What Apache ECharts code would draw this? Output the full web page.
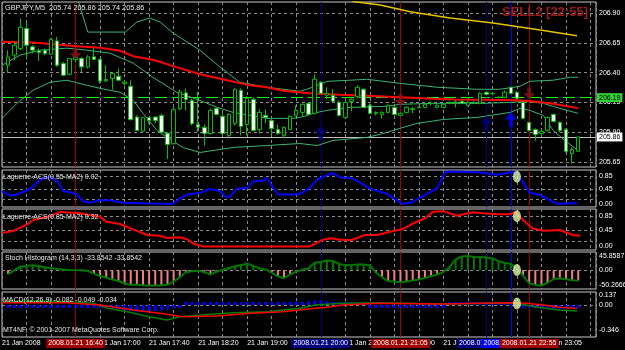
<!DOCTYPE html>
<html><head><meta charset="utf-8">
<script src="https://cdn.jsdelivr.net/npm/echarts@6/dist/echarts.min.js"></script>
<style>html,body{margin:0;padding:0;background:#000;}#c{width:625px;height:350px;}</style>
</head><body><div id="c"></div>
<script>
// ================= DATA =================
// candles (5-minute bars), bar i sits at axis slot i+1
const opens  = [206.462,206.546,206.602,206.771,206.616,206.582,206.588,206.554,206.666,206.476,206.386,206.510,206.518,206.448,206.532,206.510,206.330,206.350,206.369,206.308,206.285,206.027,205.909,206.022,206.027,206.041,205.892,205.803,206.097,206.229,206.167,205.965,205.940,205.889,206.100,206.033,205.873,205.974,206.251,205.965,206.176,205.923,206.041,205.999,205.923,205.873,205.923,206.041,206.066,206.142,206.058,206.319,206.209,206.209,206.150,206.024,206.159,206.201,206.260,206.125,206.058,206.049,206.066,206.108,206.041,206.066,206.091,206.108,206.108,206.142,206.108,206.108,206.150,206.150,206.159,206.125,206.150,206.142,206.235,206.226,206.193,206.193,206.277,206.235,206.150,205.982,205.923,205.889,205.915,206.049,205.982,205.923,205.721,205.740];
const closes = [206.532,206.630,206.779,206.630,206.588,206.569,206.560,206.678,206.462,206.378,206.518,206.527,206.448,206.532,206.510,206.330,206.342,206.392,206.336,206.321,206.005,205.915,206.022,205.999,205.999,205.900,205.797,206.089,206.237,206.173,205.971,205.942,205.889,206.083,206.049,205.889,206.049,206.260,205.948,206.184,205.915,206.066,206.024,205.932,205.889,205.940,206.033,206.083,206.134,206.049,206.344,206.226,206.226,206.159,206.041,206.150,206.176,206.277,206.108,206.058,206.066,206.066,206.125,206.049,206.058,206.108,206.097,206.106,206.134,206.140,206.125,206.134,206.148,206.152,206.142,206.150,206.148,206.226,206.218,206.224,206.191,206.235,206.226,206.184,206.016,205.915,205.881,205.906,206.024,205.990,205.915,205.738,205.755,205.860];
const lows   = [206.395,206.504,206.588,206.510,206.560,206.498,206.546,206.546,206.448,206.369,206.378,206.487,206.405,206.434,206.504,206.308,206.321,206.257,206.330,206.293,205.999,205.909,205.900,205.971,205.974,205.892,205.676,205.797,206.083,206.083,205.957,205.900,205.788,205.881,206.041,205.881,205.856,205.957,205.873,205.873,205.906,205.889,205.974,205.881,205.881,205.848,205.915,206.033,206.033,206.041,206.049,206.218,206.176,206.150,206.033,206.016,206.075,206.184,206.100,206.049,206.041,206.016,206.058,206.041,206.033,206.058,206.058,206.100,206.100,206.125,206.100,206.100,206.134,206.108,206.134,206.117,206.142,206.134,206.209,206.209,206.184,206.184,206.218,206.176,206.007,205.906,205.831,205.864,205.906,205.982,205.898,205.730,205.637,205.740];
const highs  = [206.588,206.658,206.855,206.826,206.630,206.602,206.602,206.687,206.700,206.490,206.518,206.538,206.532,206.546,206.608,206.518,206.462,206.405,206.434,206.336,206.336,206.041,206.027,206.027,206.033,206.055,205.900,206.117,206.257,206.266,206.181,206.237,205.965,206.100,206.108,206.066,206.058,206.268,206.268,206.201,206.193,206.091,206.091,206.016,205.965,205.948,206.041,206.125,206.142,206.150,206.386,206.327,206.277,206.260,206.167,206.176,206.184,206.293,206.268,206.142,206.075,206.075,206.134,206.117,206.066,206.117,206.108,206.117,206.142,206.159,206.134,206.142,206.159,206.167,206.167,206.159,206.159,206.235,206.243,206.235,206.201,206.251,206.280,206.243,206.159,205.990,205.932,205.923,206.033,206.058,205.990,205.932,205.772,205.860];

// overlay lines on the price pane: [slot, price]
const redMA = [[0,206.658],[5.06,206.653],[12.2,206.622],[16.0,206.608],[19.25,206.583],[21.4,206.538],[24.96,206.504],[27.9,206.454],[32.3,206.386],[36.7,206.336],[40.5,206.293],[43.2,206.277],[45.8,206.248],[50.2,206.226],[55.1,206.214],[59.5,206.205],[64.9,206.193],[70.3,206.180],[73.9,206.174],[78.5,206.173],[84.0,206.167],[86.1,206.162],[89.4,206.142],[94.0,206.102]];
const yellowMA = [[56.6,207.030],[57.3,206.997],[61.7,206.967],[66.6,206.911],[73.1,206.858],[80.1,206.816],[87.8,206.757],[93.8,206.709]];
const upperBand = [[11.9,207.077],[12.4,207.009],[14.0,206.740],[16.0,206.740],[20.1,206.740],[22.0,206.824],[24.1,206.858],[25.8,206.824],[27.9,206.732],[32.3,206.588],[35.6,206.445],[38.8,206.319],[43.2,206.277],[48.6,206.243],[50.7,206.277],[53.0,206.327],[56.8,206.336],[59.5,206.344],[64.9,206.310],[71.0,206.277],[77.5,206.260],[81.2,206.260],[84.5,206.285],[86.1,206.327],[89.9,206.336],[92.7,206.361],[94.0,206.361]];
const middleBand = [[0,206.462],[2.9,206.546],[6.2,206.588],[10.6,206.605],[13.9,206.588],[17.6,206.563],[21.4,206.479],[24.6,206.361],[28.5,206.235],[32.3,206.167],[35.1,206.108],[37.7,206.066],[43.2,206.016],[47.5,206.016],[49.4,206.033],[50.7,206.058],[53.0,206.083],[56.8,206.108],[62.8,206.117],[64.9,206.134],[70.3,206.142],[78.5,206.142],[82.9,206.150],[85.6,206.159],[88.3,206.142],[91.0,206.100],[94.0,206.058]];
const lowerBand = [[0,206.016],[2.45,206.142],[5.06,206.251],[7.83,206.319],[10.6,206.336],[13.9,206.293],[16.0,206.268],[19.25,206.235],[21.4,206.167],[23.0,206.058],[25.3,205.915],[26.9,205.856],[29.5,205.772],[32.3,205.730],[37.7,205.772],[43.2,205.788],[48.6,205.805],[51.4,205.788],[54.0,205.831],[59.5,205.856],[62.2,205.889],[64.9,205.932],[67.7,205.974],[72.0,206.007],[77.5,206.024],[82.9,206.066],[84.5,206.100],[86.1,206.083],[88.3,206.041],[89.9,205.915],[91.8,205.831],[94.0,205.746]];

// signal arrows [slot, price]
const arrowsDown = [[12,206.563],[65,206.171],[86,206.226]];
const arrowsUp = [[52,205.894],[79,205.975],[83,206.006]];
const arrowsUpColors = ['#000080','#000080','#0000ff'];

// horizontal price lines
const priceTicks = [205.65,205.90,206.15,206.40,206.65,206.90];
const levelLine = 206.19;
const bidLine = 205.86;

// vertical time lines
const vLineSlots = [12,52,65,79,83,86];
const vLineLabels = ['2008.01.21 16:40','2008.01.21 20:00','2008.01.21 21:05','2008.01.21 22:15','2008.01.21 22:35','2008.01.21 22:55'];
const vLineColors = ['#a00000','#000080','#a00000','#000080','#0000ff','#a00000'];

// time axis labels
const timeTickSlots = [0,16,24,32,40,48,56,64,72,80,88];
const timeTickLabels = ['21 Jan 2008','21 Jan 17:00','21 Jan 17:40','21 Jan 18:20','21 Jan 19:00','21 Jan 19:40','21 Jan 20:20','21 Jan 21:00','21 Jan 21:40','21 Jan 22:20','21 Jan 23:05'];

// Laguerre panes [slot, value]
const laguerre1 = [[0,0.39],[1.3,0.26],[2.4,0.29],[4.6,0.46],[6.2,0.75],[7.8,0.83],[9.1,0.69],[10.0,0.39],[11.1,0.36],[12.2,0.29],[13.2,0.08],[14.4,0.03],[16.0,0.11],[17.6,0.11],[19.7,0.03],[24.1,0.01],[27.9,0.0],[29.0,0.16],[30.2,0.29],[32.3,0.34],[33.9,0.46],[35.6,0.39],[36.4,0.22],[37.2,0.23],[38.3,0.47],[40.0,0.49],[40.9,0.69],[42.6,0.72],[43.2,0.80],[45.0,0.29],[47.5,0.29],[48.6,0.31],[50.2,0.49],[51.4,0.75],[52.2,0.82],[53.8,0.95],[55.5,0.80],[56.3,0.82],[57.6,0.75],[60.0,0.47],[62.8,0.31],[65.3,0.0],[66.6,0.03],[68.7,0.24],[71.0,0.49],[72.3,0.98],[73.1,1.0],[77.5,0.98],[80.8,0.90],[82.9,0.98],[84.0,0.95],[86.1,0.34],[87.8,0.27],[90.5,0.0],[93.8,0.02]];
const laguerre2 = [[0,0.38],[1.8,0.43],[4.1,0.62],[5.1,0.74],[7.8,0.85],[9.5,0.97],[10.6,0.95],[12.7,0.93],[16.0,0.83],[17.1,0.69],[19.25,0.63],[21.4,0.48],[23.7,0.32],[25.8,0.30],[26.9,0.24],[29.0,0.26],[30.2,0.20],[31.2,0.08],[32.8,0.0],[37.7,0.0],[50.2,0.0],[52.2,0.18],[53.5,0.23],[55.6,0.18],[57.1,0.18],[59.2,0.32],[61.2,0.32],[63.3,0.41],[65.4,0.49],[67.1,0.65],[69.0,0.79],[70.3,0.97],[72.0,0.99],[74.2,0.86],[76.8,0.96],[78.5,0.93],[80.8,0.90],[82.9,0.90],[83.7,0.97],[85.0,0.74],[86.5,0.51],[88.3,0.44],[91.0,0.46],[93.1,0.32],[94.3,0.30]];
const laguerreLevels = [0.15,0.45,0.85];
const laguerreTicks = [0,0.15,0.45,0.85];

// Stoch histogram, one value per bar
const stochHist = [-12.8,-0.6,11.3,13.7,16.2,13.1,9.2,5.8,4.0,2.1,0.6,-0.3,-0.6,-2.1,-11.3,-19.5,-25.0,-30.5,-35.7,-43.6,-47.6,-48.1,-49.5,-50.27,-49.8,-49.2,-47.9,-36.6,-23.5,-7.3,-3.4,-1.8,-6.7,-14.3,-5.2,1.2,7.0,12.5,16.8,21.0,13.7,6.1,2.1,-8.2,-20.1,-26.5,-14.3,-4.9,1.2,6.1,23.8,26.5,31.4,29.6,20.1,16.2,16.2,18.6,18.0,16.2,-8.2,-23.5,-35.7,-37.2,-39.3,-37.5,-34.2,-30.5,-25.3,-19.8,-14.3,-6.4,10.1,35.1,44.5,45.86,42.7,41.5,41.5,38.1,29.0,23.5,20.4,5.2,-18.3,-43.3,-48.5,-50.27,-41.2,-29.0,-26.8,-30.0,-33.0,-33.85];
const stochTicks = [-50.2666,0,45.8587];

// MACD
const macdHist = [-0.008,-0.010,-0.012,-0.010,-0.008,-0.010,-0.012,-0.010,-0.008,-0.006,-0.008,-0.010,-0.012,-0.015,-0.02,-0.03,-0.04,-0.05,-0.06,-0.07,-0.08,-0.09,-0.09,-0.085,-0.08,-0.075,-0.06,-0.04,-0.02,0.01,0.02,0.025,0.03,0.03,0.035,0.03,0.025,0.03,0.035,0.04,0.035,0.03,0.03,0.025,0.02,0.025,0.03,0.035,0.04,0.05,0.06,0.065,0.05,0.04,0.03,0.025,0.02,0.02,0.015,-0.005,-0.01,-0.01,-0.012,-0.01,-0.008,-0.01,-0.008,-0.006,-0.005,-0.004,-0.005,-0.004,0.003,0.005,0.006,0.006,0.008,0.01,0.01,0.012,0.01,0.008,0.005,0.002,-0.02,-0.03,-0.04,-0.05,-0.055,-0.06,-0.055,-0.045,-0.04,-0.034];
const macdMain = [[0,0.045],[5.06,0.059],[10.6,0.045],[14.8,0.027],[17.1,-0.041],[20.4,-0.092],[24.1,-0.160],[26.9,-0.205],[29.0,-0.160],[32.3,-0.137],[37.7,-0.105],[43.2,-0.092],[48.6,-0.045],[51.1,0.0],[55.6,0.023],[61.2,0.032],[72.0,0.014],[80.1,0.023],[84.0,0.023],[87.3,-0.032],[91.0,-0.068],[93.8,-0.082]];
const macdSignal = [[0,0.032],[10.6,0.032],[16.0,0.0],[21.4,-0.068],[25.8,-0.114],[29.5,-0.160],[35.1,-0.151],[40.5,-0.114],[45.8,-0.092],[51.1,-0.045],[53.0,-0.032],[55.6,0.0],[61.2,0.023],[72.0,0.014],[77.5,0.023],[82.9,0.032],[85.6,0.023],[88.3,0.0],[91.0,-0.032],[93.8,-0.049]];
const macdTicks = [-0.346,0,0.137];

// highlight ellipses [slot, value] per pane
const dotLag1 = [84,0.84], dotLag2 = [84,0.85], dotStoch = [84,0], dotMacd = [84,0.02];

// ================= CHART =================
const FONT = '"Liberation Sans", Arial, sans-serif';
const FS = 7;
const chart = echarts.init(document.getElementById('c'), null, {renderer:'canvas'});

const gridsDef = [
  {top:2, height:165, min:205.608, max:206.9923},
  {top:170, height:37, min:-0.1, max:1.05},
  {top:209, height:41, min:-0.1, max:1.05},
  {top:252, height:37, min:-61.6, max:59},
  {top:292, height:45, min:-0.438, max:0.178}
];
const yTicks = [priceTicks, laguerreTicks, laguerreTicks, stochTicks, macdTicks];
const yFmt = [
  v => v.toFixed(2),
  v => v.toFixed(2),
  v => v.toFixed(2),
  v => v === 0 ? '0.00' : String(v),
  v => v === 0 ? '0.00' : String(v)
];
const XMAX = 96.9;
const gridDash = {color:'#8c8c8c', type:[3,3], width:1};

const grids = gridsDef.map(g => ({left:2, right:29, top:g.top, height:g.height, show:true,
  borderColor:'#c8c8c8', borderWidth:1, backgroundColor:'transparent', outerBoundsMode:'none', containLabel:false}));

const xAxes = gridsDef.map((g,i) => ({
  gridIndex:i, type:'value', min:0, max:XMAX, interval:4,
  axisLine:{show:false}, axisTick:{show:false},
  axisLabel:{show:i===4, align:'left', margin:3, color:'#ffffff', fontSize:FS, fontFamily:FONT, hideOverlap:false,
    formatter: v => { const k = timeTickSlots.indexOf(v); return k >= 0 ? timeTickLabels[k] : ''; },
    showMinLabel:true, showMaxLabel:false},
  splitLine:{show:true, lineStyle:gridDash}
}));

const yAxes = gridsDef.map((g,i) => ({
  gridIndex:i, type:'value', position:'right', min:g.min, max:g.max, scale:true,
  axisLine:{show:false}, axisTick:{show:false}, splitLine:{show:false},
  axisLabel:{show:true, customValues:yTicks[i], formatter:yFmt[i], color:'#ffffff', fontSize:FS, fontFamily:FONT, margin:3,
    hideOverlap:false, showMinLabel:true, showMaxLabel:true}
}));

function hLines(vals){ return vals.map(v => ({yAxis:v, lineStyle:gridDash, label:{show:false}})); }
function vLines(withLabels){
  return vLineSlots.map((s,i) => ({xAxis:s, lineStyle:{color:vLineColors[i], type:'solid', width:1},
    label: withLabels ? {show:true, position:'start', distance:2, formatter:vLineLabels[i],
      backgroundColor:vLineColors[i], color:'#ffffff', padding:[1,2], fontSize:FS, fontFamily:FONT} : {show:false}}));
}
function markLines(data){ return {silent:true, symbol:['none','none'], z:1, animation:false, data:data}; }

const downPath = 'path://M4,0 L8,0 L8,6 L12,6 L6,12 L0,6 L4,6 Z';
const upPath = 'path://M6,0 L12,6 L8,6 L8,12 L4,12 L4,6 L0,6 Z';
const lineS = (grid, data, color, width, z) => ({type:'line', xAxisIndex:grid, yAxisIndex:grid, data:data,
  symbol:'none', showSymbol:false, lineStyle:{color:color, width:width}, z:z||2, silent:true, animation:false});
const dot = (grid, p) => ({type:'scatter', xAxisIndex:grid, yAxisIndex:grid, data:[p], symbol:'circle',
  symbolSize:[8,12], itemStyle:{color:'#dcf5a4'}, z:6, silent:true});

const series = [
  // price pane
  {type:'candlestick', xAxisIndex:0, yAxisIndex:0, z:3, silent:true, barWidth:4,
   data: opens.map((o,i) => [i+1, o, closes[i], lows[i], highs[i]]),
   encode:{x:0, y:[1,2,3,4]},
   itemStyle:{color:'#000000', color0:'#ffffff', borderColor:'#00c000', borderColor0:'#00c000', borderWidth:1},
   markLine: markLines([].concat(hLines(priceTicks),
     [{yAxis:levelLine, lineStyle:{color:'#00ff00', type:[12,5], width:1},
       label:{show:true, position:'end', distance:1, formatter:levelLine.toFixed(2), backgroundColor:'#32cd32', color:'#000000', padding:[1,2], fontSize:FS, fontFamily:FONT}},
      {yAxis:bidLine, lineStyle:{color:'#c0c0c0', type:'solid', width:1},
       label:{show:true, position:'end', distance:1, formatter:bidLine.toFixed(2), backgroundColor:'#ffffff', color:'#000000', padding:[1,2], fontSize:FS, fontFamily:FONT}}],
     vLines(false)))},
  lineS(0, upperBand, '#3cb371', 1),
  lineS(0, middleBand, '#3cb371', 1),
  lineS(0, lowerBand, '#3cb371', 1),
  lineS(0, redMA, '#ff0000', 2),
  lineS(0, yellowMA, '#e6c200', 1.5),
  {type:'scatter', xAxisIndex:0, yAxisIndex:0, data:arrowsDown, symbol:downPath, symbolSize:[12,12],
   itemStyle:{color:'#8b1414'}, z:5, silent:true},
  {type:'scatter', xAxisIndex:0, yAxisIndex:0, data:arrowsUp.map((p,i)=>({value:p, itemStyle:{color:arrowsUpColors[i]}})),
   symbol:upPath, symbolSize:[12,15], z:5, silent:true},
  // Laguerre 1
  Object.assign(lineS(1, laguerre1, '#0000ff', 2), {markLine: markLines(hLines(laguerreLevels).concat(vLines(false)))}),
  dot(1, dotLag1),
  // Laguerre 2
  Object.assign(lineS(2, laguerre2, '#ff0000', 2), {markLine: markLines(hLines(laguerreLevels).concat(vLines(false)))}),
  dot(2, dotLag2),
  // Stoch histogram
  {type:'bar', xAxisIndex:3, yAxisIndex:3, barWidth:2, silent:true, z:2,
   data: stochHist.map((v,i) => [i+1, v]),
   itemStyle:{color: p => p.value[1] >= 0 ? '#007800' : '#f08080'},
   markLine: markLines(hLines([0]).concat(vLines(false)))},
  lineS(3, stochHist.map((v,i) => [i+1, v]), '#007800', 2, 3),
  dot(3, dotStoch),
  // MACD
  {type:'bar', xAxisIndex:4, yAxisIndex:4, barWidth:3, barMinHeight:3, silent:true, z:2,
   data: macdHist.map((v,i) => [i+1, v]), itemStyle:{color:'#0000ff'},
   markLine: markLines(hLines([0]).concat(vLines(true)))},
  lineS(4, macdMain, '#008000', 1.5, 3),
  lineS(4, macdSignal, '#ff0000', 1.5, 3),
  dot(4, dotMacd)
];

const txt = (x, y, text, size, color, weight) => ({type:'text', x:x, y:y, silent:true, z:100,
  style:{text:text, fill:color, fontSize:size, fontFamily:FONT, fontWeight:weight||'normal', verticalAlign:'middle', align:'left'}});

chart.setOption({
  backgroundColor:'#000000',
  animation:false,
  grid: grids, xAxis: xAxes, yAxis: yAxes, series: series,
  graphic: [
    txt(5, 7.5, 'GBPJPY,M5  205.74 205.86 205.74 205.86', 7.3, '#e8e8e8'),
    txt(502, 12.5, 'SELL2 [22:55]', 13, '#a01a1a', 'bold'),
    txt(3, 177.5, 'Laguerre-ACS(0.55-MA2) 0.02', FS, '#e8e8e8'),
    txt(3, 217.5, 'Laguerre-ACS(0.85-MA2) 0.32', FS, '#e8e8e8'),
    txt(5, 258.5, 'Stoch Histogram (14,3,3) -33.8542 -33.8542', FS, '#e8e8e8'),
    txt(3, 300.5, 'MACD(12,26,9) -0.082 -0.049 -0.034', FS, '#e8e8e8'),
    txt(3, 330, 'MT4NF, \u00A9 2001-2007 MetaQuotes Software Corp.', FS, '#e8e8e8')
  ]
});
</script></body></html>
